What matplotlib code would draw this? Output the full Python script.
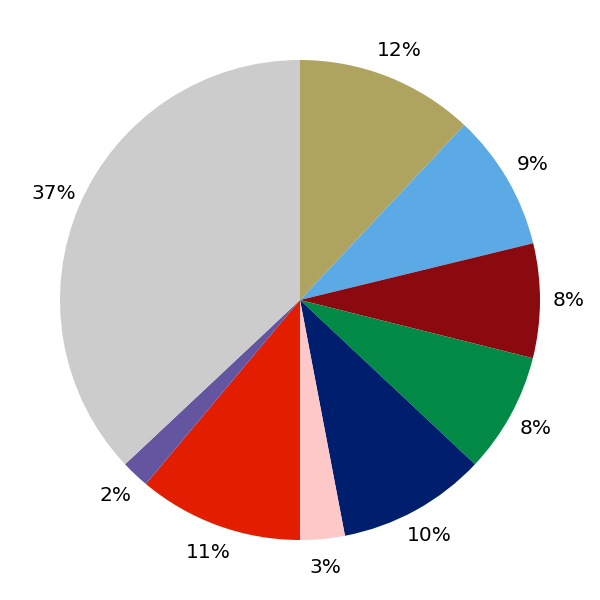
import matplotlib
matplotlib.use("Agg")
import matplotlib.pyplot as plt

values = [12.0, 9.2, 7.7, 8.1, 10.0, 3.0, 11.1, 1.9, 37.0]
colors = ["#afa45f", "#5caae5", "#8a0a10", "#008a46", "#001e6e",
          "#ffc8c8", "#e31d00", "#63559f", "#cccccc"]

fig = plt.figure(figsize=(6, 6), dpi=100)
ax = fig.add_axes([0.1, 0.1, 0.8, 0.8])
ax.pie(values, colors=colors, startangle=90, counterclock=False,
       autopct="%1.0f%%", pctdistance=1.12,
       textprops={"fontsize": 14.5, "color": "black"},
       wedgeprops={"linewidth": 0})
ax.set_aspect("equal")
ax.set_xlim(-1, 1)
ax.set_ylim(-1, 1)
fig.savefig("out.png", dpi=100, facecolor="white")
